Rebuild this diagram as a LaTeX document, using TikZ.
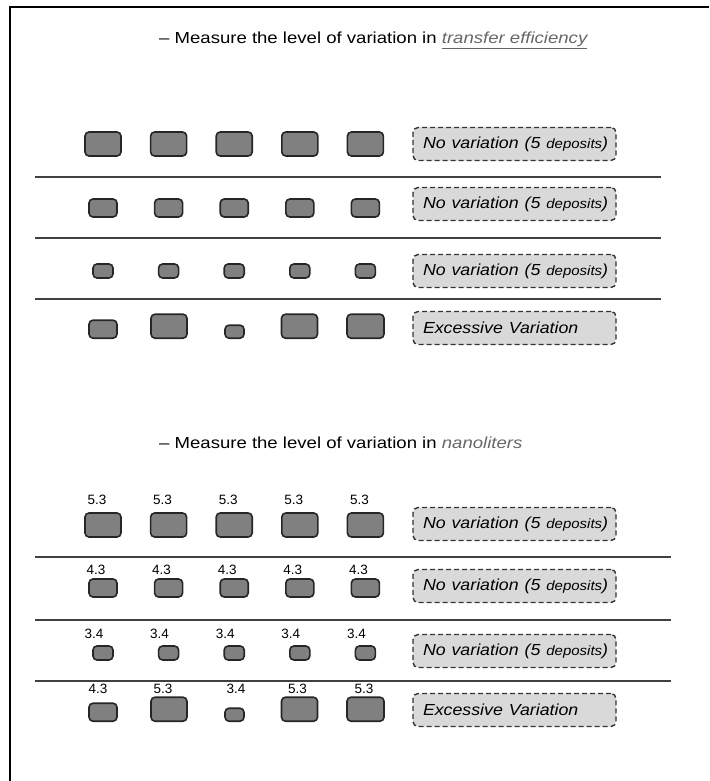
\documentclass[tikz,border=0pt]{standalone}
\usepackage{fontspec}
\setmainfont{Liberation Sans}
\usetikzlibrary{positioning}

\newcommand{\novar}{\scalebox{1.11}[1]{No variation (5 {\fontsize{13.5}{16}\selectfont deposits})}}
\newcommand{\toomuch}{\scalebox{1.11}[1]{Excessive Variation}}

\tikzset{
  dep/.style={draw=black!85, fill=black!50, line width=1.6pt, rounded corners=4pt, inner sep=0pt},
  depbig/.style={dep, minimum width=36pt, minimum height=24pt},
  depmid/.style={dep, minimum width=28pt, minimum height=18pt},
  deplow/.style={dep, minimum width=20pt, minimum height=14pt},
  tag/.style={draw=black!80, fill=black!15, line width=1.4pt, dash pattern=on 5pt off 3pt,
    rounded corners=5pt, text width=183pt, inner xsep=10pt, minimum height=33pt, align=left,
    font=\fontsize{16}{18}\selectfont\itshape},
  val/.style={font=\fontsize{13.5}{13.5}\selectfont, inner sep=0pt},
  head/.style={anchor=west, inner sep=0pt, font=\fontsize{16}{18}\selectfont},
  sep/.style={draw=black!75, line width=2.8pt},
}

\begin{document}
\begin{tikzpicture}[x=1pt,y=-1pt]
    \useasboundingbox (0,0) rectangle (709,781);
    \draw[line width=2pt] (10,781) -- (10,7) -- (709,7);

    % transfer efficiency
    \node[head] (h1) at (159,40) {\scalebox{1.16}[1]{-- Measure the level of variation in
      {\color{black!60}\itshape\underline{transfer efficiency}}}};

    \foreach \i/\x in {1/103,2/168.6,3/234.2,4/299.8,5/365.4} {
      \node[depbig] (a\i) at (\x,144) {};
      \node[depmid] (b\i) at (\x,208) {};
      \node[deplow] (c\i) at (\x,271) {};
    }
    \foreach \i/\x/\w/\h in {1/103/28/18,2/169/36/24,3/234.5/19/13,4/299.5/36/24,5/365.5/37/24}
      \node[dep, minimum width=\w, minimum height=\h, anchor=south] (d\i) at (\x,339) {};

    \node[tag] (ta) at (514.5,144) {\novar};
    \node[tag] (tb) at (514.5,204) {\novar};
    \node[tag] (tc) at (514.5,271) {\novar};
    \node[tag] (td) at (514.5,328) {\toomuch};

    \draw[sep] (35,177) -- (661,177);
    \draw[sep, line width=1.6pt] (35,238) -- (661,238);
    \draw[sep] (35,299) -- (661,299);

    % nanoliters
    \node[head] (h2) at (159,443) {\scalebox{1.16}[1]{-- Measure the level of variation in
      {\color{black!60}\itshape nanoliters}}};

    \foreach \i/\x in {1/103,2/168.6,3/234.2,4/299.8,5/365.4} {
      \node[depbig] (e\i) at (\x,525) {};
      \node[val] (ev\i) at (\x-6,500) {5.3};
      \node[depmid] (f\i) at (\x,588) {};
      \node[val] (fv\i) at (\x-7,570) {4.3};
      \node[deplow] (g\i) at (\x,653) {};
      \node[val] (gv\i) at (\x-9,634) {3.4};
    }
    \foreach \i/\x/\w/\h/\v/\d in {1/103/28/18/4.3/-5,2/169/36/24/5.3/-6,3/234.5/19/13/3.4/1.5,
        4/299.5/36/24/5.3/-2,5/365.5/37/24/5.3/-1.5} {
      \node[dep, minimum width=\w, minimum height=\h, anchor=south] (k\i) at (\x,722) {};
      \node[val] (kv\i) at (\x+\d,689) {\v};
    }

    \node[tag] (te) at (514.5,524) {\novar};
    \node[tag] (tf) at (514.5,586) {\novar};
    \node[tag] (tg) at (514.5,651) {\novar};
    \node[tag] (tk) at (514.5,710) {\toomuch};

    \draw[sep, line width=2.4pt] (35,557) -- (671,557);
    \draw[sep, line width=2.4pt] (35,620) -- (671,620);
    \draw[sep, line width=2.4pt] (35,681) -- (671,681);
\end{tikzpicture}
\end{document}
